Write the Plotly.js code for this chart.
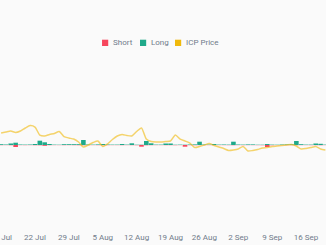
<!DOCTYPE html>
<html>
<head>
<meta charset="utf-8">
<script src="https://cdn.plot.ly/plotly-3.0.1.min.js"></script>
<style>html,body{margin:0;padding:0;background:#fafafa;}#chart{width:326px;height:245px;}</style>
</head>
<body>
<div id="chart"></div>
<script>
// Daily data starting 15 Jul 2024 (68 days)
const startDate = '2024-07-15';
const numDays = 68;
// Long liquidations (thousand USD)
const longLiq = [32,20,60,92,20,16,20,40,172,108,
                 40,16,12,32,32,32,32,200,20,16,
                 24,40,20,16,16,40,16,68,12,12,
                 160,68,16,16,60,60,12,16,12,20,
                 24,132,20,16,40,16,20,16,132,20,
                 16,24,24,12,12,40,16,12,20,24,
                 28,160,32,16,16,60,48,16];
// Short liquidations (thousand USD, drawn below zero)
const shortLiq = [-8,-6,-10,-80,-6,-8,-6,-10,-12,-32,
                  -8,-6,-6,-8,-6,-8,-10,-12,-8,-6,
                  -8,-10,-8,-6,-6,-8,-6,-8,-10,-68,
                  -12,-8,-6,-6,-8,-8,-10,-6,-68,-8,
                  -10,-8,-6,-6,-8,-6,-6,-8,-10,-6,
                  -8,-6,-6,-8,-10,-80,-12,-6,-6,-8,
                  -8,-10,-6,-6,-8,-8,-10,-6];
// ICP price (USD)
const icpPrice = [9.34,9.45,9.55,9.39,9.55,9.88,10.15,9.98,9.12,9.02,
                  9.18,9.29,9.50,8.96,8.80,8.69,8.37,7.83,8.05,8.32,
                  8.48,7.89,8.16,8.64,9.02,9.18,9.07,9.02,9.50,9.88,
                  8.69,8.43,8.37,8.37,8.43,8.48,9.12,8.69,8.48,8.26,
                  7.78,7.89,8.05,8.21,8.00,7.83,7.67,7.46,7.51,7.62,
                  7.89,7.40,7.46,7.57,7.73,7.78,7.89,7.94,8.00,8.05,
                  8.10,7.94,7.62,7.67,7.78,7.89,7.62,7.51];
const seriesNames = ['Short','Long','ICP Price'];
const seriesColors = ['#F6465D','#1FA98A','#F0B90B'];

const dates = [];
{
  const d0 = new Date(startDate + 'T00:00:00Z');
  for (let i = 0; i < numDays; i++) {
    const d = new Date(d0.getTime() + i*86400000);
    dates.push(d.toISOString().slice(0,10));
  }
}

const traces = [
  {type:'bar', x:dates, y:shortLiq, name:seriesNames[0], marker:{color:seriesColors[0], line:{width:0}}, showlegend:false, hoverinfo:'skip'},
  {type:'bar', x:dates, y:longLiq, name:seriesNames[1], marker:{color:seriesColors[1], line:{width:0}}, showlegend:false, hoverinfo:'skip'},
  {type:'scatter', mode:'lines', x:dates, y:icpPrice, name:seriesNames[2], yaxis:'y2',
   line:{color:'rgba(240,185,11,0.6)', width:1.5, shape:'spline', smoothing:0.6}, showlegend:false, hoverinfo:'skip'}
];

const FONT = 'Roboto, "Noto Sans", sans-serif';
const legX = [0.313, 0.4294, 0.5368];
const legTextX = [0.3436, 0.4601, 0.5675];
const shapes = [], annotations = [];
for (let i = 0; i < 3; i++) {
  shapes.push({type:'rect', xref:'paper', yref:'paper', x0:legX[i], x1:legX[i]+0.0190,
    y0:1.0833, y1:1.1208, fillcolor:seriesColors[i], line:{width:0}});
  annotations.push({xref:'paper', yref:'paper', x:legTextX[i], y:1.1012, xanchor:'left', yanchor:'middle',
    text:seriesNames[i], showarrow:false, borderpad:0, font:{family:FONT, size:8, color:'#707A8A'}});
}

const layout = {
  width:326, height:245,
  margin:{l:0, r:0, t:60, b:17, pad:0},
  paper_bgcolor:'#fafafa', plot_bgcolor:'#fafafa',
  barmode:'relative', bargap:0.05,
  showlegend:false,
  font:{family:FONT, size:8, color:'#707A8A'},
  xaxis:{type:'date', range:['2024-07-14 18:30','2024-09-20 03:00'],
    tick0:'2024-07-15', dtick:7*86400000, tickformat:'%-d %b',
    showgrid:false, zeroline:false, showline:false, ticks:'',
    ticklabeloverflow:'allow', ticklabelstandoff:3,
    tickfont:{family:FONT, size:8, color:'#707A8A'}},
  yaxis:{range:[-3320,3400], visible:false, showgrid:false, zeroline:false, fixedrange:true},
  yaxis2:{range:[-0.875,17.19], overlaying:'y', side:'right', visible:false, showgrid:false, zeroline:false},
  shapes:shapes, annotations:annotations
};

Plotly.newPlot('chart', traces, layout, {staticPlot:true, displayModeBar:false});
</script>
</body>
</html>
